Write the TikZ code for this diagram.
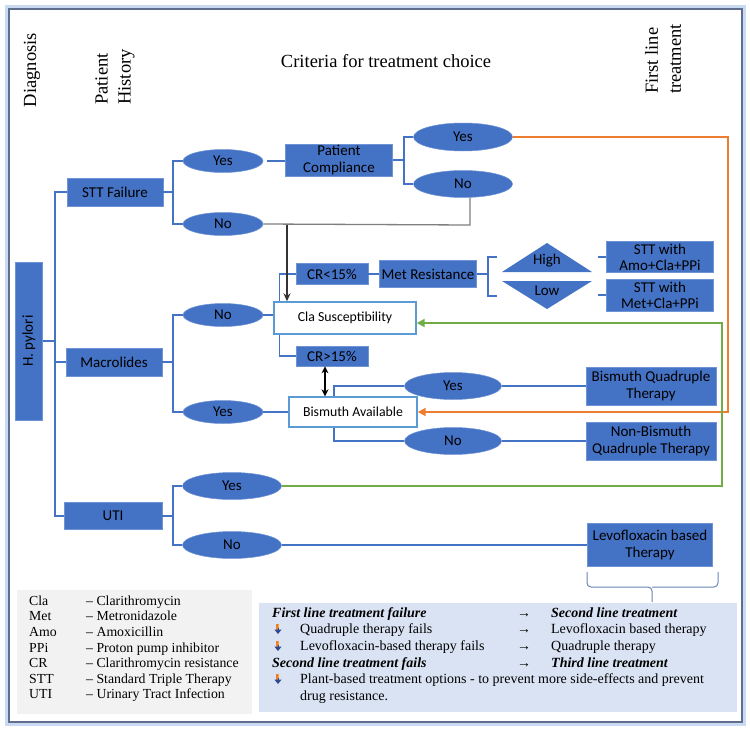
\documentclass[tikz,border=0pt]{standalone}
\usepackage{fontspec}
\setmainfont{Liberation Serif}
\setsansfont{Carlito}
\usetikzlibrary{shapes.geometric,arrows.meta}
\definecolor{hblue}{HTML}{4472C4}
\definecolor{hborder}{HTML}{6F94D6}
\definecolor{lblue}{HTML}{5B9BD5}
\definecolor{ora}{HTML}{ED7D31}
\definecolor{grn}{HTML}{70AD47}
\definecolor{gryline}{HTML}{7F7F7F}
\definecolor{framec}{HTML}{5E6E8C}
\definecolor{glowc}{HTML}{C9DAF2}
\definecolor{legg}{HTML}{F2F2F2}
\definecolor{legb}{HTML}{DAE3F3}
\definecolor{brc}{HTML}{6A86B8}
\definecolor{bulblue}{HTML}{2E4A8C}
\begin{document}
\begin{tikzpicture}[x=1pt,y=-1pt,
  bbox/.style={draw=hborder, line width=0.7pt, fill=hblue, inner sep=0pt, align=center,
    font=\sffamily\fontsize{15}{17}\selectfont, text=black},
  wbox/.style={draw=lblue, line width=1.4pt, fill=white, inner sep=0pt,
    font=\sffamily\fontsize{13.8}{16}\selectfont, text=black},
  oval/.style={ellipse, fill=hblue, draw=hborder, line width=0.5pt, inner sep=0pt,
    font=\sffamily\fontsize{15}{17}\selectfont, text=black},
  conn/.style={draw=hblue, line width=1.2pt},
  gconn/.style={draw=gryline, line width=1.3pt},
  oconn/.style={draw=ora, line width=1.8pt, -{Triangle[length=8pt,width=8pt]}},
  grconn/.style={draw=grn, line width=1.8pt, -{Triangle[length=8pt,width=8pt]}},
  head/.style={font=\fontsize{18.5}{23}\selectfont, align=left, inner sep=0pt, rotate=90},
  bul/.pic={
    \fill[ora] (-1.6,-5) rectangle (0,0.5);
    \fill[ora!70!yellow] (0,-5) rectangle (1.4,-1);
    \fill[bulblue] (0,-1) rectangle (1.4,0.5);
    \fill[bulblue] (-3.6,0.5) -- (3.6,0.5) -- (0,5) -- cycle;
  }
]
\useasboundingbox (0,0) rectangle (750,731);
\fill[white] (0,0) rectangle (750,731);
% frame
\draw[glowc, line width=4pt] (7,7) rectangle (744,724);
\draw[framec, line width=1.2pt] (9,9) rectangle (742,722);

% headers
\node[head] (hdiag) at (32,70) {Diagnosis};
\node[head] (hhist) at (115,77) {Patient\\History};
\node[font=\fontsize{18.5}{23}\selectfont, inner sep=0pt] (hcrit) at (386,61) {Criteria for treatment choice};
\node[head] (hfirst) at (663,59) {First line\\treatment};

% boxes
\node[bbox, minimum width=27pt, minimum height=158pt] (hp) at (29,341) {\rotatebox{90}{H. pylori}};
\node[bbox, minimum width=96pt, minimum height=28pt] (stt) at (115,192) {STT Failure};
\node[bbox, minimum width=96pt, minimum height=28pt] (mac) at (114,362) {Macrolides};
\node[bbox, minimum width=98pt, minimum height=27pt] (uti) at (113,516) {UTI};

\node[oval, minimum width=80pt, minimum height=23pt] (sy) at (223,161) {Yes};
\node[oval, minimum width=80pt, minimum height=23pt] (sn) at (223,224) {No};
\node[bbox, minimum width=107pt, minimum height=32pt] (pc) at (339,160) {Patient\\Compliance};
\node[oval, minimum width=99pt, minimum height=28pt] (py) at (463,137) {Yes};
\node[oval, minimum width=99pt, minimum height=27pt] (pn) at (463,184) {No};

\node[oval, minimum width=80pt, minimum height=23pt] (my) at (223,315) {No};
\node[oval, minimum width=80pt, minimum height=23pt] (myes) at (223,412) {Yes};
\node[wbox, minimum width=142pt, minimum height=32pt] (cla) at (345,318) {Cla Susceptibility};
\node[bbox, minimum width=72pt, minimum height=21pt] (crl) at (332,274) {CR<15\%};
\node[bbox, minimum width=72pt, minimum height=20pt] (crh) at (332,356) {CR>15\%};
\node[bbox, minimum width=97pt, minimum height=27pt] (met) at (428,274) {Met Resistance};

\fill[hblue] (502,272) -- (547,243) -- (592,272) -- cycle;
\fill[hblue] (502,281) -- (592,281) -- (547,309) -- cycle;
\node[font=\sffamily\fontsize{15}{17}\selectfont, inner sep=0pt] (high) at (547,261) {High};
\node[font=\sffamily\fontsize{15}{17}\selectfont, inner sep=0pt] (low) at (547,291) {Low};

\node[bbox, minimum width=107pt, minimum height=31pt, font=\sffamily\fontsize{15}{16}\selectfont] (sa) at (660,257) {STT with\\Amo+Cla+PPi};
\node[bbox, minimum width=107pt, minimum height=32pt, font=\sffamily\fontsize{15}{16}\selectfont] (sb) at (660,295) {STT with\\Met+Cla+PPi};

\node[wbox, minimum width=128pt, minimum height=30pt] (bis) at (353,412) {Bismuth Available};
\node[oval, minimum width=97pt, minimum height=27pt] (by) at (453,386) {Yes};
\node[oval, minimum width=97pt, minimum height=27pt] (bn) at (453,441) {No};
\node[bbox, minimum width=130pt, minimum height=38pt] (bq) at (651,386) {Bismuth Quadruple\\Therapy};
\node[bbox, minimum width=130pt, minimum height=38pt] (nbq) at (651,441) {Non-Bismuth\\Quadruple Therapy};

\node[oval, minimum width=99pt, minimum height=27pt] (uy) at (232,486) {Yes};
\node[oval, minimum width=99pt, minimum height=27pt] (un) at (232,545) {No};
\node[bbox, minimum width=125pt, minimum height=43pt] (lev) at (650,545) {Levofloxacin based\\Therapy};

% blue connectors
\coordinate (b0) at (55,341);
\draw[conn] (hp.east) -- (b0);
\draw[conn] (stt.west) -| (b0);
\draw[conn] (uti.west) -| (b0);
\draw[conn] (mac.west) -- (mac.west -| b0);

\coordinate (b1) at (173,192);
\draw[conn] (stt.east) -- (b1);
\draw[conn] (sy.west) -| (b1);
\draw[conn] (sn.west) -| (b1);
\draw[conn] ([xshift=4pt]sy.east) -- (sy.east -| pc.west);

\coordinate (b2) at (404,160);
\draw[conn] (pc.east) -- (b2);
\draw[conn] (py.west) -| (b2);
\draw[conn] (pn.west) -| (b2);

\coordinate (b3) at (173,362);
\draw[conn] (mac.east) -- (b3);
\draw[conn] (my.west) -| (b3);
\draw[conn] (myes.west) -| (b3);
\draw[conn] (my.east) -- (my.east -| cla.west);
\draw[conn] (myes.east) -- (bis.west);

\draw[conn] ([xshift=6pt]cla.north west) |- (crl.west);
\draw[conn] ([xshift=6pt]cla.south west) |- (crh.west);
\draw[conn] (crl.east) -- (met.west);

\coordinate (b4) at (488,274);
\draw[conn] (met.east) -- (b4);
\draw[conn] (497,257) -- (488,257) -- (488,296) -- (497,296);
\draw[conn] (598,257) -- (sa.west);
\draw[conn] (598,295) -- (sb.west);

\draw[conn] ([xshift=-19pt]bis.north) |- (by.west);
\draw[conn] ([xshift=-19pt]bis.south) |- (bn.west);
\draw[conn] (by.east) -- (by.east -| bq.west);
\draw[conn] (bn.east) -- (bn.east -| nbq.west);

\coordinate (b5) at (173,516);
\draw[conn] (uti.east) -- (b5);
\draw[conn] (uy.west) -| (b5);
\draw[conn] (un.west) -| (b5);
\draw[conn] (un.east) -- (lev.west);

% gray connector and arrows
\coordinate (g1) at (470,225);
\coordinate (jn) at (287,225);
\draw[gconn] (sn.east) -- (g1) -- (g1 |- pn.south);
\draw[gconn, -{Stealth[length=8pt,width=7pt]}, black!80] (jn) -- (jn |- cla.north);
\draw[black, line width=1.3pt, {Stealth[length=7pt,width=7pt]}-{Stealth[length=7pt,width=7pt]}]
  ([xshift=-7pt]crh.south) -- ([xshift=-7pt]crh.south |- bis.north);

\coordinate (oc) at (728,412);
\draw[oconn] (py.east) -| (oc) -- (bis.east);
\coordinate (gc) at (722,323);
\draw[grconn] (uy.east) -| (gc) -- ([yshift=-5pt]cla.east);

% brace
\draw[brc, line width=1pt, rounded corners=4pt] (587,572) -- (587,587) -- (652,587) -- (652,602);
\draw[brc, line width=1pt, rounded corners=4pt] (718,572) -- (718,587) -- (652,587);

% legends
\fill[legg] (17,590) rectangle (252,714);
\node[anchor=north west, inner sep=0pt, font=\fontsize{13.8}{15.6}\selectfont] (legA) at (29,594.1) {%
\begin{tabular}{@{}p{57pt}@{}l@{}}
Cla & – Clarithromycin\\
Met & – Metronidazole\\
Amo & – Amoxicillin\\
PPi & – Proton pump inhibitor\\
CR & – Clarithromycin resistance\\
STT & – Standard Triple Therapy\\
UTI & – Urinary Tract Infection
\end{tabular}};

\fill[legb] (259,603) rectangle (737,712);
\node[anchor=north west, inner sep=0pt, font=\fontsize{14}{16.6}\selectfont] (legB) at (272,605.4) {%
\begin{tabular}{@{}p{28pt}@{}p{217pt}@{}p{34pt}@{}l@{}}
\multicolumn{2}{@{}l@{}}{\textbf{\textit{First line treatment failure}}} & → & \textbf{\textit{Second line treatment}}\\
 & Quadruple therapy fails & → & Levofloxacin based therapy\\
 & Levofloxacin-based therapy fails & → & Quadruple therapy\\
\multicolumn{2}{@{}l@{}}{\textbf{\textit{Second line treatment fails}}} & → & \textbf{\textit{Third line treatment}}\\
 & \multicolumn{3}{@{}p{426pt}@{}}{\raggedright Plant-based treatment options - to prevent more side-effects and prevent drug resistance.}
\end{tabular}};
\pic at (278,629) {bul};
\pic at (278,646) {bul};
\pic at (278,679) {bul};
\end{tikzpicture}
\end{document}
